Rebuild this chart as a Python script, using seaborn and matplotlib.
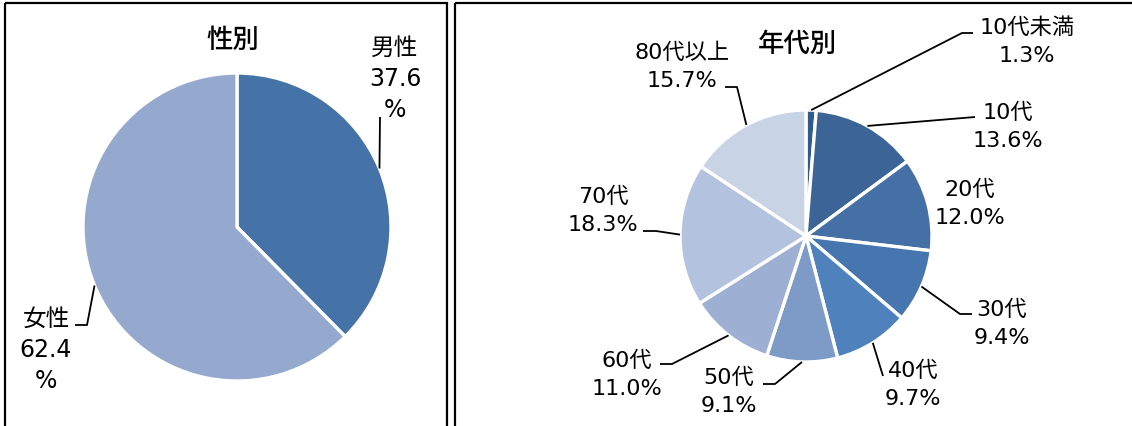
import numpy as np
import seaborn as sns
import matplotlib
matplotlib.use('Agg')
from matplotlib import pyplot as plt
from matplotlib.patches import Rectangle

# data
gender_labels = ['男性', '女性']
gender_values = [37.6, 62.4]
gender_colors = ['#4573A7', '#95A8CE']

age_labels = ['10代未満', '10代', '20代', '30代', '40代', '50代', '60代', '70代', '80代以上']
age_values = [1.3, 13.6, 12.0, 9.4, 9.7, 9.1, 11.0, 18.3, 15.7]
age_colors = ['#2F5B8E', '#3C6497', '#4570A6', '#4675AF', '#4F81BD',
              '#7E9BC8', '#9DB0D3', '#B3C3DF', '#C9D3E6']

# layout (pixel coords, y from top): label centre x, name y, leader knee, leader end
gender_layout = [
    (395, 48, (380, 118), (380, 118)),
    (46, 319, (87, 326), (75, 326)),
]
age_layout = [
    (1027, 28, (962, 34), (973, 34)),
    (1008, 113, (975, 118), (975, 118)),
    (970, 190, None, None),
    (1002, 310, (960, 315), (972, 315)),
    (913, 371, (883, 377), (883, 377)),
    (729, 378, (775, 385), (763, 385)),
    (627, 361, (672, 365), (660, 365)),
    (603, 197, (656, 232), (643, 232)),
    (682, 53, (737, 88), (725, 88)),
]

sns.set_theme(style='white')
plt.rcParams['font.family'] = ['DejaVu Sans', 'Noto Sans CJK JP']

W, H = 1132, 427
fig = plt.figure(figsize=(W / 100, H / 100), dpi=100)
ax = fig.add_axes([0, 0, 1, 1])

def draw_pie(values, colors, center, radius):
    wedges, _ = ax.pie(values, colors=colors, center=center, radius=radius,
                       startangle=-90, counterclock=True,
                       wedgeprops=dict(edgecolor='white', linewidth=2.4))
    return wedges

def rim_point(w):
    m = np.deg2rad((w.theta1 + w.theta2) / 2)
    return (w.center[0] + w.r * np.cos(m), w.center[1] + w.r * np.sin(m))

def leader(w, knee, end):
    p = rim_point(w)
    ax.plot([p[0], knee[0], end[0]], [p[1], knee[1], end[1]],
            color='black', lw=1.3, solid_capstyle='butt', zorder=5)

# left: gender
gw = draw_pie(gender_values, gender_colors, (237, 228), 154)
for w, name, v, (x, y, knee, end) in zip(gw, gender_labels, gender_values, gender_layout):
    ax.text(x, y, name, ha='center', va='center', fontsize=17, color='black',
            family=['Noto Sans CJK JP'])
    ax.text(x, y + 31, f'{v:.1f}', ha='center', va='center', fontsize=17, color='black')
    ax.text(x, y + 62, '%', ha='center', va='center', fontsize=17, color='black')
    leader(w, knee, end)

# right: age
aw = draw_pie(age_values, age_colors, (806, 237), 126)
for w, name, v, (x, y, knee, end) in zip(aw, age_labels, age_values, age_layout):
    ax.text(x, y, name, ha='center', va='center', fontsize=16, color='black')
    ax.text(x, y + 28, f'{v:.1f}%', ha='center', va='center', fontsize=16, color='black')
    if knee is not None:
        leader(w, knee, end)

ax.text(233, 40, '性別', ha='center', va='center', fontsize=19, color='black',
        family=['Noto Sans CJK JP'], weight='medium')
ax.text(797, 44, '年代別', ha='center', va='center', fontsize=19, color='black',
        family=['Noto Sans CJK JP'], weight='medium')

# panel frames
ax.add_patch(Rectangle((5, 4), 442, 460, fill=False, edgecolor='black', lw=1.6, zorder=6))
ax.add_patch(Rectangle((455, 4), 700, 460, fill=False, edgecolor='black', lw=1.6, zorder=6))

ax.set_xlim(0, W)
ax.set_ylim(H, 0)
ax.set_aspect('auto')
ax.axis('off')

fig.savefig('out.png', dpi=100, facecolor='white')
